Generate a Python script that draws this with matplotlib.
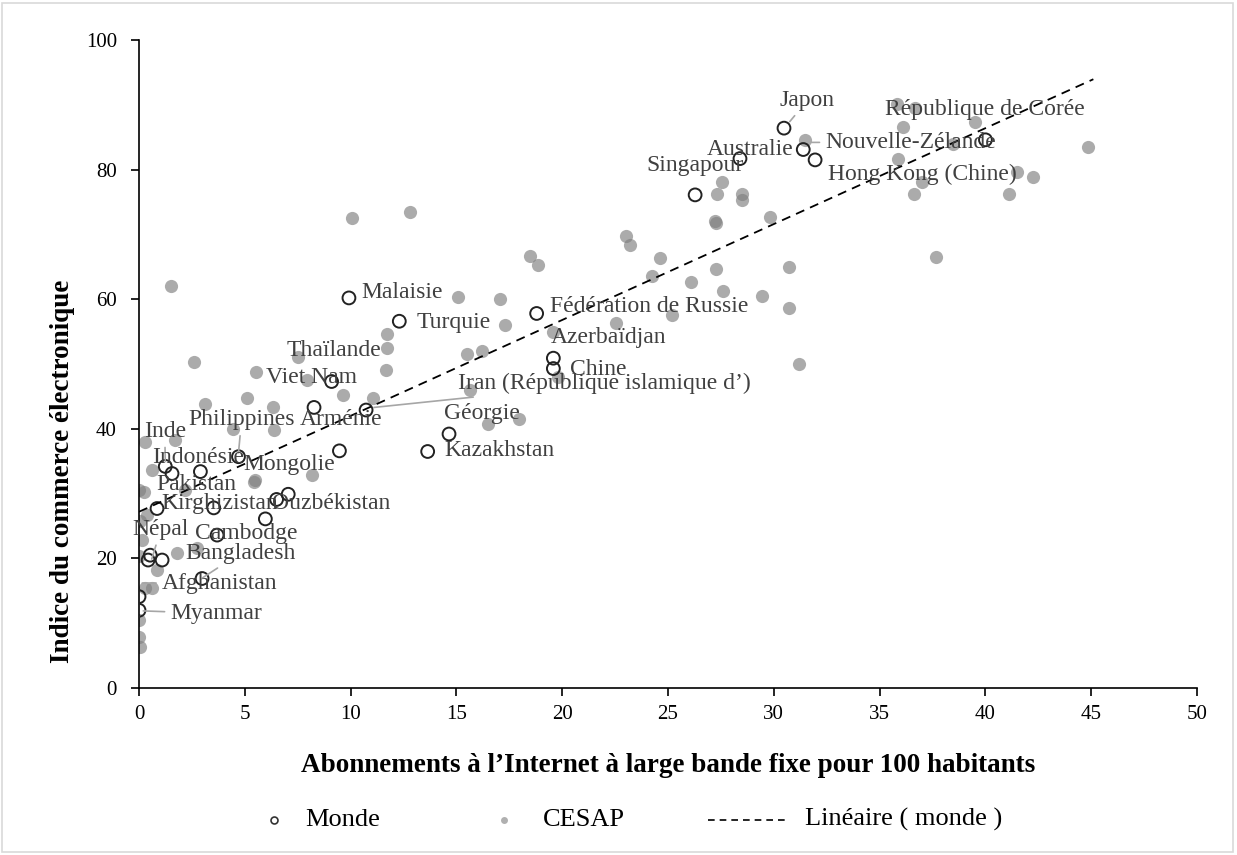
import numpy as np
import matplotlib
matplotlib.use("Agg")
import matplotlib.pyplot as plt
from matplotlib.lines import Line2D
from matplotlib.patches import Rectangle

plt.rcParams['font.family'] = ['Liberation Serif', 'DejaVu Serif']

# --- world: grey dots (broadband per 100 hab., e-commerce index) ---
grey_x = [35.8, 36.67, 36.12, 39.5, 31.47, 38.48, 35.88, 44.86, 41.47, 42.26,
          36.98, 36.64, 41.13, 37.65, 27.53, 27.3, 28.48, 28.48, 27.22, 27.25,
          29.82, 23.01, 23.2, 24.62, 18.48, 18.87, 24.22, 26.1, 27.27, 27.6,
          29.45, 30.73, 30.73, 31.19, 25.21, 22.54, 15.09, 17.06, 17.3, 19.58,
          15.49, 16.19, 15.64, 16.51, 17.97, 19.82, 10.05, 12.8, 1.5, 11.7,
          11.7, 11.66, 7.53, 2.6, 5.53, 7.92, 9.65, 11.07, 3.12, 5.09,
          6.35, 4.45, 6.38, 0.3, 1.72, 8.16, 5.5, 5.45, 0.61, 0.0,
          0.22, 2.19, 0.38, 0.14, 0.0, 0.85, 1.8, 2.74, 0.61, 0.3,
          0.0, 0.0, 0.06, 0.05]
grey_y = [90.1, 89.5, 86.6, 87.4, 84.6, 84.0, 81.6, 83.5, 79.7, 78.9,
          78.1, 76.2, 76.3, 66.5, 78.1, 76.3, 76.3, 75.3, 72.0, 71.8,
          72.7, 69.8, 68.4, 66.3, 66.7, 65.3, 63.6, 62.7, 64.6, 61.3,
          60.5, 64.9, 58.6, 50.0, 57.6, 56.4, 60.4, 60.1, 56.0, 55.0,
          51.5, 52.0, 46.0, 40.8, 41.5, 48.0, 72.6, 73.5, 62.0, 54.6,
          52.4, 49.1, 51.1, 50.3, 48.8, 47.5, 45.2, 44.7, 43.8, 44.7,
          43.3, 40.0, 39.8, 38.0, 38.3, 32.8, 32.1, 31.8, 33.6, 30.6,
          30.3, 30.6, 26.7, 22.8, 20.3, 18.2, 20.8, 21.6, 15.4, 15.4,
          10.5, 7.9, 6.4, 25.8]

# --- Asia-Pacific economies: open circles ---
open_names = ['Japon', 'Australie', 'Nouvelle-Zélande', 'Hong Kong (Chine)', 'Singapour',
              'République de Corée', 'Malaisie', 'Turquie', 'Fédération de Russie',
              'Azerbaïdjan', 'Chine', 'Iran', 'Arménie', 'Viet Nam', 'Géorgie',
              'Kazakhstan', 'Inde', 'Indonésie', 'Pakistan', 'Philippines', 'Mongolie',
              'Kirghizistan', 'Tadjikistan', 'Sri Lanka', 'Ouzbékistan', 'Bhoutan',
              'Cambodge', 'Népal', 'Lao', 'Maldives', 'Bangladesh', 'Afghanistan', 'Myanmar']
open_x = [30.48, 28.4, 31.39, 31.95, 26.28, 40.0, 9.92, 12.3, 18.79, 19.58,
          19.58, 10.73, 8.27, 9.1, 14.65, 13.64, 1.24, 1.56, 2.9, 4.7, 9.47,
          0.85, 3.53, 5.97, 6.5, 7.05, 3.69, 0.43, 0.53, 1.09, 2.98, 0.0, 0.0]
open_y = [86.4, 81.7, 83.1, 81.5, 76.1, 84.6, 60.2, 56.6, 57.8, 50.9,
          49.3, 42.9, 43.3, 47.3, 39.2, 36.5, 34.2, 33.1, 33.4, 35.7, 36.6,
          27.7, 27.8, 26.1, 29.1, 29.9, 23.6, 19.75, 20.5, 19.75, 16.9, 14.1, 12.0]

# linear trend (monde)
trend_slope = 1.48
trend_intercept = 27.2
trend_xmax = 45.1

# data labels: text, text anchor (left, middle) in data units, optional leader end
labels = [
    ('Japon', 30.29, 90.7, (30.75, 87.4)),
    ('République de Corée', 35.26, 89.2, None),
    ('Australie', 26.85, 83.1, None),
    ('Nouvelle-Zélande', 32.42, 84.2, (31.75, 84.2)),
    ('Hong Kong (Chine)', 32.58, 79.2, None),
    ('Singapour', 23.96, 80.7, None),
    ('Malaisie', 10.52, 61.1, None),
    ('Turquie', 13.12, 56.4, None),
    ('Fédération de Russie', 19.42, 58.8, None),
    ('Azerbaïdjan', 19.45, 54.1, None),
    ('Chine', 20.37, 49.1, None),
    ('Iran (République islamique d’)', 15.09, 47.0, (11.1, 43.3)),
    ('Géorgie', 14.43, 42.4, None),
    ('Kazakhstan', 14.43, 36.7, None),
    ('Thaïlande', 6.95, 52.1, None),
    ('Viet Nam', 6.0, 47.9, None),
    ('Philippines', 2.33, 41.4, (4.7, 36.3)),
    ('Arménie', 7.61, 41.4, None),
    ('Inde', 0.22, 39.6, (1.24, 35.0)),
    ('Indonésie', 0.61, 35.6, None),
    ('Mongolie', 4.93, 34.5, None),
    ('Pakistan', 0.84, 31.4, None),
    ('Kirghizistan', 1.07, 28.5, None),
    ('Ouzbékistan', 6.27, 28.5, None),
    ('Népal', -0.3, 24.5, (0.6, 19.9)),
    ('Cambodge', 2.65, 23.9, None),
    ('Bangladesh', 2.17, 20.8, (3.0, 17.0)),
    ('Afghanistan', 1.07, 16.2, (0.15, 16.2)),
    ('Myanmar', 1.47, 11.5, (0.2, 11.9)),
]

fig = plt.figure(figsize=(12.37, 8.55), dpi=100)
ax = fig.add_axes([0.1124, 0.1953, 0.8553, 0.7579])

ax.scatter(grey_x, grey_y, s=90, color='#7f7f7f', alpha=0.65, linewidths=0, zorder=2)
ax.scatter(open_x, open_y, s=85, facecolors='none', edgecolors='#222222',
           linewidths=1.4, zorder=3)

tx = np.array([0.0, trend_xmax])
ax.plot(tx, trend_intercept + trend_slope * tx, color='black', lw=1.3,
        ls=(0, (5, 3.5)), zorder=4)

for txt, lx, ly, lead in labels:
    if lead is not None:
        ax.annotate(txt, xy=lead, xytext=(lx, ly), ha='left', va='center',
                    fontsize=17, color='#404040', annotation_clip=False,
                    arrowprops=dict(arrowstyle='-', color='#a6a6a6', lw=1.2,
                                    shrinkA=2, shrinkB=0), zorder=5)
    else:
        ax.text(lx, ly, txt, ha='left', va='center', fontsize=17,
                color='#404040', clip_on=False, zorder=5)

ax.set_xlim(0, 50)
ax.set_ylim(0, 100)
ax.set_xticks(np.arange(0, 51, 5))
ax.set_yticks(np.arange(0, 101, 20))
ax.tick_params(axis='both', direction='out', length=6, width=1.2,
               labelsize=15, colors='black')
ax.tick_params(axis='y', pad=10)
ax.tick_params(axis='x', pad=6)
for side in ('top', 'right'):
    ax.spines[side].set_visible(False)
for side in ('left', 'bottom'):
    ax.spines[side].set_linewidth(1.2)

ax.set_xlabel('Abonnements à l’Internet à large bande fixe pour 100 habitants',
              fontsize=19.5, fontweight='bold', labelpad=21)
ax.set_ylabel('Indice du commerce électronique', fontsize=19.5, fontweight='bold')
ax.yaxis.set_label_coords(-0.061, 0.335)

# legend row under the x label
leg_y = 0.041
leg_font = 19
fig.add_artist(Line2D([274 / 1237], [leg_y], ls='none', marker='o', ms=5,
                      mfc='none', mec='#333333', mew=1.2, transform=fig.transFigure))
fig.text(305 / 1237, leg_y, 'Monde', fontsize=leg_font, va='center', ha='left')
fig.add_artist(Line2D([504 / 1237], [leg_y], ls='none', marker='o', ms=5,
                      mfc='#b0b0b0', mec='none', transform=fig.transFigure))
fig.text(543 / 1237, leg_y, 'CESAP', fontsize=leg_font, va='center', ha='left')
fig.add_artist(Line2D([708 / 1237, 785 / 1237], [leg_y, leg_y], color='black', lw=1.2,
                      ls=(0, (4, 3)), transform=fig.transFigure))
fig.text(805 / 1237, leg_y, 'Linéaire ( monde )', fontsize=leg_font, va='center', ha='left')

fig.patches.append(Rectangle((0.002, 0.003), 0.995, 0.994, transform=fig.transFigure,
                             fill=False, edgecolor='#d9d9d9', lw=1.2))

fig.savefig('out.png', dpi=100)
